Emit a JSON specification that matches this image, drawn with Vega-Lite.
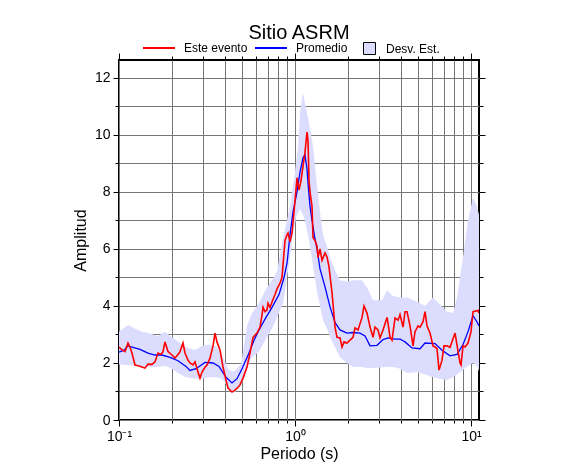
{
"$schema":"https://vega.github.io/schema/vega-lite/v6.json",
"width":360,"height":360,
"autosize":{"type":"none"},
"padding":{"left":119,"top":60,"right":107,"bottom":55},
"background":"white",
"title":{"text":"Sitio ASRM","fontSize":20,"font":"Liberation Sans","fontWeight":"normal","color":"black","anchor":"middle","offset":14,"dy":26},
"config":{"font":"Liberation Sans","view":{"stroke":"black","strokeWidth":2},
 "axis":{"labelFont":"Liberation Sans","titleFont":"Liberation Sans","labelColor":"black","titleColor":"black","tickColor":"black","titleFontWeight":"normal"},
 "legend":{"labelFont":"Liberation Sans","labelColor":"black"}},
"datasets":{
"desv":[
{"p":0.1,"lo":1.95,"hi":3.1},{"p":0.1125,"lo":1.93,"hi":3.33},{"p":0.1233,"lo":1.9,"hi":3.2},{"p":0.1351,"lo":1.88,"hi":3.1},{"p":0.1461,"lo":1.86,"hi":3.05},{"p":0.1666,"lo":1.86,"hi":2.95},{"p":0.1825,"lo":1.9,"hi":3.1},{"p":0.2,"lo":1.8,"hi":2.9},{"p":0.2164,"lo":1.65,"hi":2.75},{"p":0.2403,"lo":1.5,"hi":2.55},{"p":0.2703,"lo":1.45,"hi":2.46},{"p":0.2962,"lo":1.45,"hi":2.6},{"p":0.3246,"lo":1.5,"hi":2.65},{"p":0.3557,"lo":1.5,"hi":2.6},{"p":0.3847,"lo":1.45,"hi":2.3},{"p":0.4055,"lo":1.25,"hi":1.95},{"p":0.4217,"lo":1.05,"hi":1.75},{"p":0.4502,"lo":0.95,"hi":1.7},{"p":0.4934,"lo":1.2,"hi":1.95},{"p":0.5337,"lo":1.8,"hi":3.3},{"p":0.5697,"lo":2.2,"hi":3.75},{"p":0.6243,"lo":2.4,"hi":4.1},{"p":0.6842,"lo":2.85,"hi":4.6},{"p":0.7402,"lo":3.2,"hi":4.9},{"p":0.7902,"lo":3.6,"hi":5.2},{"p":0.8548,"lo":4.1,"hi":6.4},{"p":0.9006,"lo":5.0,"hi":7.0},{"p":0.9367,"lo":5.7,"hi":7.5},{"p":0.9742,"lo":6.5,"hi":8.2},{"p":1.0132,"lo":7.1,"hi":9.0},{"p":1.0401,"lo":7.3,"hi":9.6},{"p":1.0676,"lo":7.4,"hi":10.8},{"p":1.1103,"lo":7.2,"hi":11.5},{"p":1.1397,"lo":7.0,"hi":11.1},{"p":1.1853,"lo":6.5,"hi":10.6},{"p":1.2167,"lo":6.1,"hi":10.2},{"p":1.2655,"lo":5.4,"hi":9.6},{"p":1.3335,"lo":4.5,"hi":8.2},{"p":1.3869,"lo":4.0,"hi":7.3},{"p":1.4425,"lo":3.5,"hi":6.5},{"p":1.5199,"lo":3.2,"hi":6.1},{"p":1.5808,"lo":2.9,"hi":5.7},{"p":1.6879,"lo":2.55,"hi":5.25},{"p":1.8018,"lo":2.2,"hi":4.9},{"p":1.9741,"lo":2.0,"hi":4.85},{"p":2.1356,"lo":1.86,"hi":4.9},{"p":2.4028,"lo":1.86,"hi":4.9},{"p":2.5651,"lo":1.82,"hi":4.65},{"p":2.775,"lo":1.82,"hi":4.2},{"p":3.1212,"lo":1.85,"hi":4.2},{"p":3.3326,"lo":1.86,"hi":4.55},{"p":3.6045,"lo":1.86,"hi":4.35},{"p":3.9504,"lo":1.8,"hi":4.3},{"p":4.3288,"lo":1.65,"hi":4.3},{"p":4.934,"lo":1.68,"hi":4.15},{"p":5.4783,"lo":1.6,"hi":4.0},{"p":6.0827,"lo":1.5,"hi":4.3},{"p":6.6661,"lo":1.45,"hi":4.05},{"p":7.3057,"lo":1.4,"hi":3.8},{"p":7.9026,"lo":1.5,"hi":3.75},{"p":8.3263,"lo":1.6,"hi":4.3},{"p":9.0063,"lo":1.75,"hi":5.7},{"p":9.6148,"lo":1.9,"hi":7.0},{"p":10.265,"lo":2.0,"hi":7.8},{"p":10.816,"lo":1.9,"hi":7.5},{"p":11.1,"lo":1.7,"hi":7.2}
],
"promedio":[
{"p":0.1,"a":2.38},{"p":0.1068,"a":2.45},{"p":0.1125,"a":2.6},{"p":0.1201,"a":2.55},{"p":0.1316,"a":2.48},{"p":0.1461,"a":2.35},{"p":0.1602,"a":2.28},{"p":0.1755,"a":2.28},{"p":0.1949,"a":2.2},{"p":0.2164,"a":2.08},{"p":0.2403,"a":1.88},{"p":0.2532,"a":1.74},{"p":0.2738,"a":1.8},{"p":0.3081,"a":2.02},{"p":0.342,"a":2.0},{"p":0.37,"a":1.88},{"p":0.4055,"a":1.5},{"p":0.4386,"a":1.3},{"p":0.4683,"a":1.45},{"p":0.4999,"a":1.8},{"p":0.5478,"a":2.35},{"p":0.5848,"a":2.8},{"p":0.6243,"a":3.16},{"p":0.6842,"a":3.6},{"p":0.7402,"a":3.95},{"p":0.8112,"a":4.4},{"p":0.866,"a":5.0},{"p":0.9006,"a":5.5},{"p":0.9367,"a":6.5},{"p":0.9742,"a":7.3},{"p":1.0265,"a":8.0},{"p":1.0676,"a":8.7},{"p":1.1103,"a":9.2},{"p":1.1397,"a":9.3},{"p":1.1699,"a":8.8},{"p":1.1853,"a":8.3},{"p":1.2167,"a":7.5},{"p":1.249,"a":7.0},{"p":1.299,"a":6.35},{"p":1.3335,"a":6.0},{"p":1.3869,"a":5.3},{"p":1.4808,"a":4.67},{"p":1.5808,"a":3.97},{"p":1.6879,"a":3.42},{"p":1.8018,"a":3.16},{"p":1.9741,"a":3.05},{"p":2.1356,"a":3.07},{"p":2.3406,"a":3.05},{"p":2.499,"a":2.95},{"p":2.6681,"a":2.6},{"p":2.9236,"a":2.62},{"p":3.1623,"a":2.82},{"p":3.3765,"a":2.88},{"p":3.7003,"a":2.84},{"p":3.9504,"a":2.84},{"p":4.217,"a":2.74},{"p":4.6214,"a":2.53},{"p":5.1317,"a":2.5},{"p":5.4783,"a":2.7},{"p":6.244,"a":2.68},{"p":6.8427,"a":2.45},{"p":7.5984,"a":2.25},{"p":8.3263,"a":2.3},{"p":9.0063,"a":2.65},{"p":9.6148,"a":3.1},{"p":10.265,"a":3.66},{"p":10.816,"a":3.44},{"p":11.1,"a":3.3}
],
"evento":[
{"p":0.1,"a":2.56},{"p":0.104,"a":2.46},{"p":0.1082,"a":2.4},{"p":0.1125,"a":2.7},{"p":0.1155,"a":2.55},{"p":0.1185,"a":2.35},{"p":0.1233,"a":1.93},{"p":0.1282,"a":1.9},{"p":0.1351,"a":1.86},{"p":0.1405,"a":1.82},{"p":0.1461,"a":1.96},{"p":0.154,"a":1.95},{"p":0.1602,"a":2.04},{"p":0.1666,"a":2.35},{"p":0.1732,"a":2.3},{"p":0.1778,"a":2.4},{"p":0.1825,"a":2.74},{"p":0.1898,"a":2.4},{"p":0.2,"a":2.28},{"p":0.208,"a":2.17},{"p":0.2164,"a":2.3},{"p":0.2221,"a":2.4},{"p":0.231,"a":2.7},{"p":0.2371,"a":2.35},{"p":0.2466,"a":2.1},{"p":0.2532,"a":2.0},{"p":0.2633,"a":1.93},{"p":0.2703,"a":2.04},{"p":0.2811,"a":1.68},{"p":0.2885,"a":1.47},{"p":0.2962,"a":1.68},{"p":0.3081,"a":1.85},{"p":0.3162,"a":1.93},{"p":0.3289,"a":2.17},{"p":0.342,"a":2.6},{"p":0.3511,"a":3.05},{"p":0.3603,"a":2.74},{"p":0.3748,"a":2.46},{"p":0.3898,"a":1.86},{"p":0.4055,"a":1.4},{"p":0.4163,"a":1.12},{"p":0.4386,"a":0.98},{"p":0.4561,"a":1.05},{"p":0.4745,"a":1.15},{"p":0.487,"a":1.23},{"p":0.5065,"a":1.47},{"p":0.5337,"a":1.86},{"p":0.555,"a":2.35},{"p":0.5772,"a":2.9},{"p":0.6082,"a":3.05},{"p":0.6326,"a":3.26},{"p":0.6494,"a":3.68},{"p":0.6579,"a":3.96},{"p":0.6753,"a":3.8},{"p":0.6932,"a":3.86},{"p":0.7024,"a":4.1},{"p":0.721,"a":3.95},{"p":0.7402,"a":4.14},{"p":0.7698,"a":4.4},{"p":0.7902,"a":4.6},{"p":0.8219,"a":4.8},{"p":0.8436,"a":5.0},{"p":0.8774,"a":6.3},{"p":0.9006,"a":6.5},{"p":0.9125,"a":6.56},{"p":0.9367,"a":6.25},{"p":0.9615,"a":6.56},{"p":0.987,"a":7.3},{"p":1.0,"a":7.7},{"p":1.0265,"a":8.5},{"p":1.0537,"a":8.07},{"p":1.0816,"a":8.4},{"p":1.1103,"a":8.9},{"p":1.1397,"a":9.4},{"p":1.1699,"a":10.1},{"p":1.1853,"a":9.8},{"p":1.2009,"a":8.4},{"p":1.2167,"a":8.0},{"p":1.249,"a":7.5},{"p":1.2655,"a":6.4},{"p":1.299,"a":6.3},{"p":1.3335,"a":6.1},{"p":1.3511,"a":5.7},{"p":1.3869,"a":6.0},{"p":1.4237,"a":5.6},{"p":1.4808,"a":5.86},{"p":1.5199,"a":5.72},{"p":1.5602,"a":5.37},{"p":1.6229,"a":4.46},{"p":1.6879,"a":3.26},{"p":1.7325,"a":2.9},{"p":1.8018,"a":2.88},{"p":1.8496,"a":2.56},{"p":1.8984,"a":2.74},{"p":1.9741,"a":2.7},{"p":2.0535,"a":2.8},{"p":2.1356,"a":2.9},{"p":2.1924,"a":3.23},{"p":2.2801,"a":3.16},{"p":2.4028,"a":3.6},{"p":2.4665,"a":4.0},{"p":2.5651,"a":3.75},{"p":2.6681,"a":3.26},{"p":2.775,"a":2.9},{"p":2.848,"a":3.26},{"p":2.962,"a":3.16},{"p":3.0405,"a":2.88},{"p":3.1623,"a":3.16},{"p":3.3326,"a":3.6},{"p":3.3765,"a":3.4},{"p":3.4657,"a":2.9},{"p":3.5576,"a":2.8},{"p":3.7003,"a":3.58},{"p":3.8484,"a":3.5},{"p":3.9504,"a":3.7},{"p":4.1087,"a":3.26},{"p":4.217,"a":3.8},{"p":4.3288,"a":3.8},{"p":4.5022,"a":3.3},{"p":4.6823,"a":2.6},{"p":4.8066,"a":3.1},{"p":4.999,"a":3.3},{"p":5.1317,"a":3.26},{"p":5.3372,"a":3.45},{"p":5.4783,"a":3.8},{"p":5.6234,"a":3.3},{"p":5.8487,"a":3.05},{"p":6.0827,"a":2.6},{"p":6.244,"a":2.56},{"p":6.4096,"a":2.5},{"p":6.5793,"a":1.75},{"p":6.8427,"a":2.1},{"p":7.0243,"a":2.6},{"p":7.3057,"a":2.6},{"p":7.5984,"a":2.55},{"p":8.1113,"a":3.05},{"p":8.3263,"a":2.63},{"p":8.6596,"a":2.0},{"p":8.7737,"a":1.93},{"p":9.0063,"a":2.6},{"p":9.2452,"a":2.56},{"p":9.6148,"a":2.7},{"p":10.0,"a":3.1},{"p":10.265,"a":3.8},{"p":10.959,"a":3.84},{"p":11.1,"a":3.75}
]
},
"layer":[
{"data":{"name":"desv"},
 "mark":{"type":"area","clip":true,"opacity":1,"blend":"multiply"},
 "encoding":{
  "x":{"field":"p","type":"quantitative","scale":{"type":"log","domain":[0.1,11.1],"nice":false},
   "axis":{"orient":"bottom","title":"Periodo (s)","titleFontSize":16,"titlePadding":2,
    "values":[0.1,0.2,0.3,0.4,0.5,0.6,0.7,0.8,0.9,1,2,3,4,5,6,7,8,9,10],
    "labelExpr":"datum.value == 0.1 ? '10⁻¹' : datum.value == 1 ? '10⁰' : datum.value == 10 ? '10¹' : ''",
    "labelFontSize":14,"labelFlush":false,"labelOverlap":false,"labelBound":false,"labelPadding":3,
    "grid":true,"gridColor":"#777777","gridWidth":1,"domain":false,
    "tickSize":{"condition":{"test":"datum.value == 0.1 || datum.value == 1 || datum.value == 10","value":6},"value":3}}},
  "y":{"field":"lo","type":"quantitative","scale":{"domain":[0,12.63],"nice":false,"zero":false},
   "axis":{"orient":"left","title":"Amplitud","titleFontSize":16,"titlePadding":6,
    "values":[0,1,2,3,4,5,6,7,8,9,10,11,12],
    "labelExpr":"datum.value % 2 == 0 ? datum.label : ''",
    "labelFontSize":14,"labelPadding":3,"labelOverlap":false,
    "grid":true,"gridColor":"#777777","gridWidth":1,"domain":false,
    "tickSize":{"condition":{"test":"datum.value % 2 == 0","value":6},"value":4}}},
  "y2":{"field":"hi"},
  "fill":{"datum":"Desv. Est.","type":"nominal","scale":{"domain":["Desv. Est."],"range":["#dcdcff"]},
   "legend":{"title":null,"orient":"none","legendX":244,"legendY":-18,"direction":"horizontal","symbolType":"square","symbolSize":144,"symbolStrokeColor":"black","symbolStrokeWidth":1,"symbolOpacity":1,"labelFontSize":12,"labelOffset":10,"padding":0}}
 }},
{"data":{"name":"promedio"},
 "mark":{"type":"line","clip":true,"strokeWidth":1.3},
 "encoding":{
  "x":{"field":"p","type":"quantitative","scale":{"type":"log","domain":[0.1,11.1],"nice":false},"axis":null},
  "y":{"field":"a","type":"quantitative","scale":{"domain":[0,12.63],"nice":false,"zero":false},"axis":null},
  "color":{"datum":"Promedio","type":"nominal","scale":{"domain":["Este evento","Promedio"],"range":["#ff0000","#0000ff"]}}
 }},
{"data":{"name":"evento"},
 "mark":{"type":"line","clip":true,"strokeWidth":1.6},
 "encoding":{
  "x":{"field":"p","type":"quantitative","scale":{"type":"log","domain":[0.1,11.1],"nice":false},
   "axis":{"orient":"top","labels":false,"title":null,"grid":false,"domain":false,
    "values":[0.1,0.2,0.3,0.4,0.5,0.6,0.7,0.8,0.9,1,2,3,4,5,6,7,8,9,10],
    "tickSize":{"condition":{"test":"datum.value == 0.1 || datum.value == 1 || datum.value == 10","value":7},"value":4}}},
  "y":{"field":"a","type":"quantitative","scale":{"domain":[0,12.63],"nice":false,"zero":false},
   "axis":{"orient":"right","labels":false,"title":null,"grid":false,"domain":false,
    "values":[0,1,2,3,4,5,6,7,8,9,10,11,12],
    "tickSize":{"condition":{"test":"datum.value % 2 == 0","value":6},"value":4}}},
  "color":{"datum":"Este evento","type":"nominal","scale":{"domain":["Este evento","Promedio"],"range":["#ff0000","#0000ff"]},
   "legend":{"title":null,"orient":"none","legendX":23,"legendY":-29,"direction":"horizontal","symbolType":"stroke","symbolSize":1024,"symbolStrokeWidth":2,"labelFontSize":12,"labelOffset":8,"columnPadding":3,"padding":0}}
 }}
],
"resolve":{"axis":{"x":"independent","y":"independent"}}
}
